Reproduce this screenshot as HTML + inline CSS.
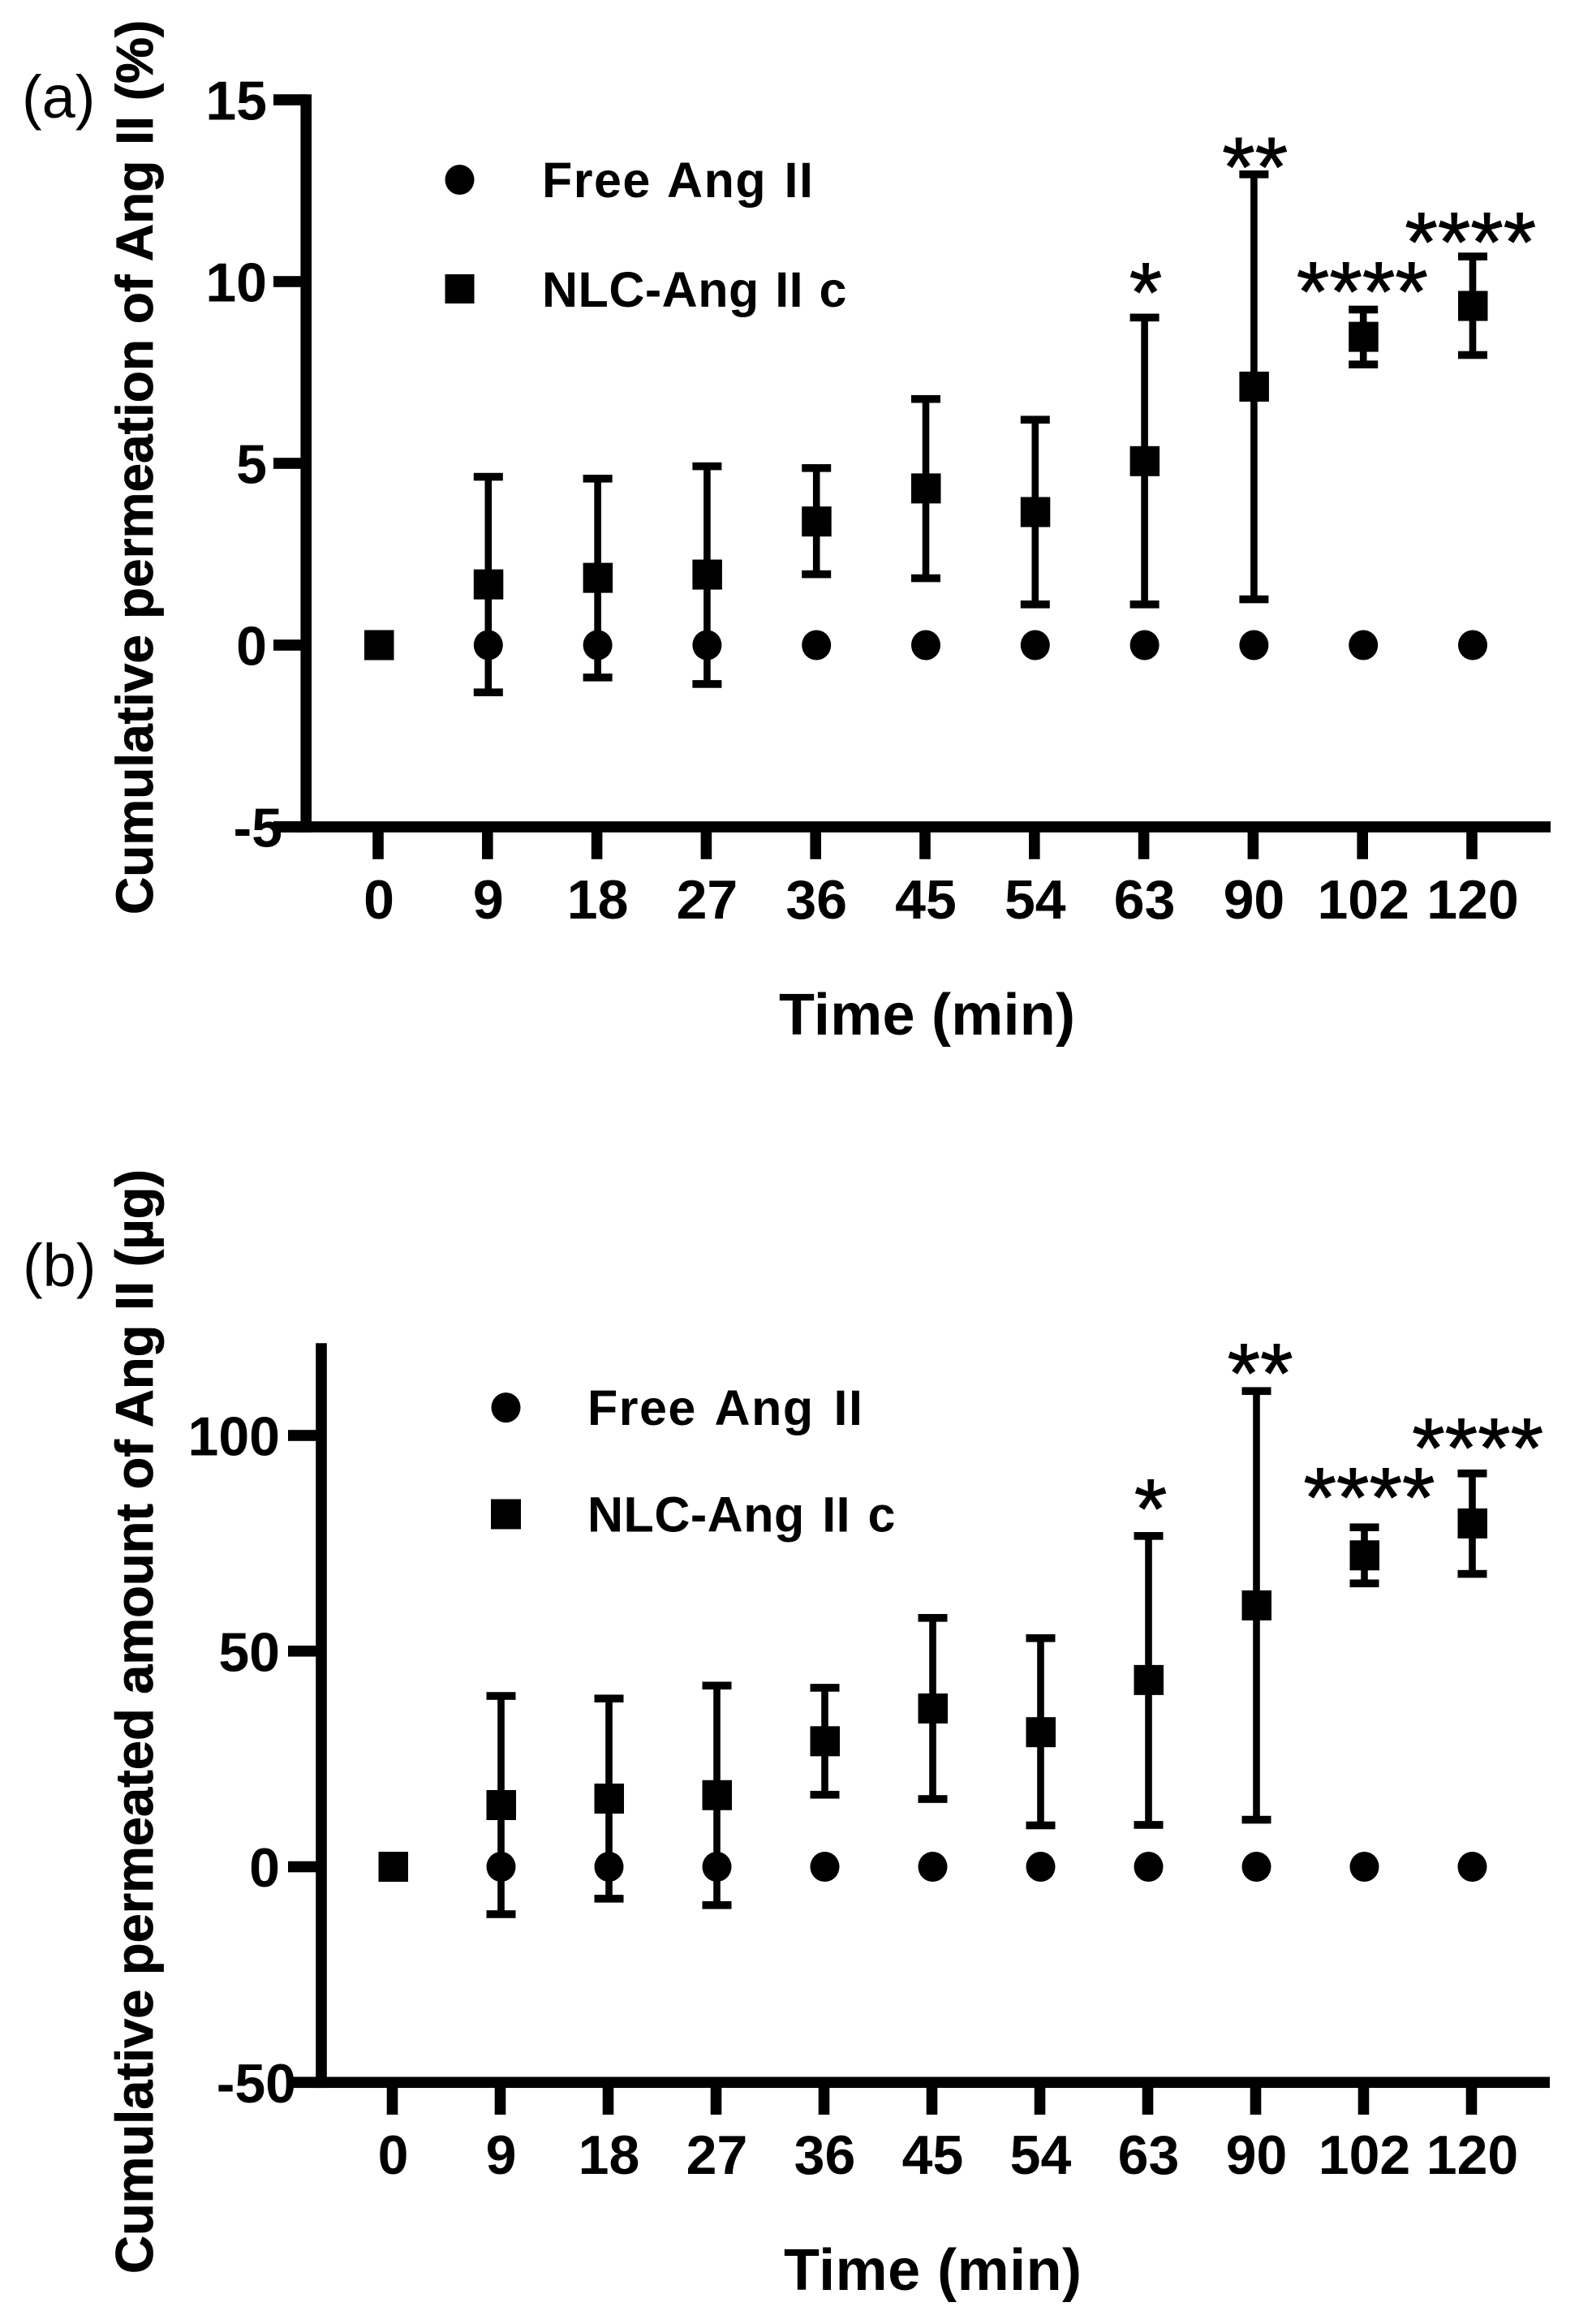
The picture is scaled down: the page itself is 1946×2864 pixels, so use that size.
<!DOCTYPE html>
<html lang="en">
<head>
<meta charset="utf-8">
<title>Cumulative permeation of Ang II</title>
<style>
html,body{margin:0;padding:0;background:#fff;}
svg{display:block;}
text{font-family:"Liberation Sans",Arial,sans-serif;fill:#000;}
.b{font-weight:bold;}
.t{stroke:#000;stroke-width:0.8px;}
</style>
</head>
<body>
<svg id="figure" xmlns="http://www.w3.org/2000/svg" width="1946" height="2864" viewBox="0 0 1946 2864">
  <rect x="0" y="0" width="1946" height="2864" fill="#fff"/>

  <g id="panel-a">
    <text x="27" y="145" font-size="74">(a)</text>
    <text class="b t" transform="translate(188,1127) rotate(-90)" font-size="64" word-spacing="1.2">Cumulative permeation of Ang II (%)</text>
    <text class="b" x="960" y="1275" font-size="72" textLength="365" lengthAdjust="spacing">Time (min)</text>
    <g>
      <ellipse cx="566.5" cy="221.5" rx="18" ry="18.5" fill="#000"/>
      <text class="b" x="668" y="243" font-size="61" letter-spacing="1.5" word-spacing="3">Free Ang II</text>
      <rect x="548.5" y="338" width="36" height="36" fill="#000"/>
      <text class="b" x="668" y="378" font-size="61" letter-spacing="0.5" word-spacing="2">NLC-Ang II c</text>
    </g>
  </g>

  <g id="panel-b">
    <text x="28" y="1585" font-size="74">(b)</text>
    <text class="b t" transform="translate(188,2802) rotate(-90)" font-size="65" word-spacing="-0.5">Cumulative permeated amount of Ang II (µg)</text>
    <text class="b" x="966" y="2822" font-size="72" textLength="367" lengthAdjust="spacing">Time (min)</text>
    <g>
      <ellipse cx="623.5" cy="1734.6" rx="18" ry="18.5" fill="#000"/>
      <text class="b" x="724" y="1756" font-size="61" letter-spacing="1.5" word-spacing="5.5">Free Ang II</text>
      <rect x="605" y="1847.5" width="37" height="37" fill="#000"/>
      <text class="b" x="724" y="1887.5" font-size="61" letter-spacing="0.5" word-spacing="4">NLC-Ang II c</text>
    </g>
  </g>
</svg>

<script>
// Shared category axis
const categories = ['0', '9', '18', '27', '36', '45', '54', '63', '90', '102', '120'];

// Panel (a): cumulative permeation (%)
const aTicks = [-5, 0, 5, 10, 15];
const aFree = [0, 0, 0, 0, 0, 0, 0, 0, 0, 0, 0];
const aNlc = [0, 1.67, 1.85, 1.94, 3.40, 4.31, 3.66, 5.06, 7.11, 8.48, 9.33];
const aNlcUpper = [0, 4.63, 4.58, 4.92, 4.87, 6.77, 6.20, 9.01, 12.95, 9.23, 10.69];
const aNlcLower = [0, -1.30, -0.89, -1.07, 1.95, 1.84, 1.12, 1.12, 1.26, 7.72, 7.98];
const aSigLabels = ['*', '**', '****', '****'];
const aSigCategory = [7.01, 8.01, 8.99, 9.98];
const aSigLevel = [8.91, 12.35, 8.93, 10.29];

// Panel (b): cumulative permeated amount (µg)
const bTicks = [-50, 0, 50, 100];
const bFree = [0, 0, 0, 0, 0, 0, 0, 0, 0, 0, 0];
const bNlc = [0, 14.3, 15.8, 16.6, 29.1, 36.7, 31.2, 43.3, 60.6, 72.2, 79.6];
const bNlcUpper = [0, 39.6, 39.0, 42.0, 41.5, 57.7, 53.0, 76.7, 110.3, 78.7, 91.2];
const bNlcLower = [0, -11.0, -7.4, -8.9, 16.7, 15.7, 9.6, 9.7, 10.9, 65.7, 67.9];
const bSigLabels = ['*', '**', '****', '****'];
const bSigCategory = [7.02, 8.035, 9.045, 10.05];
const bSigLevel = [76.3, 107.7, 78.9, 90.4];

const NS = 'http://www.w3.org/2000/svg';

function make(parent, tag, attrs, text) {
  const el = document.createElementNS(NS, tag);
  Object.keys(attrs).forEach(function (k) { el.setAttribute(k, attrs[k]); });
  if (text !== undefined) el.textContent = text;
  parent.appendChild(el);
  return el;
}

function drawPanel(cfg) {
  const root = document.getElementById(cfg.id);
  const x = function (i) { return cfg.x0 + cfg.dx * i; };
  const y = function (v) { return cfg.y0 - cfg.perUnit * v; };
  const ax = cfg.axisX;
  const axisBottom = y(cfg.ticks[0]);
  const T = 13.6;

  // Y axis spine
  const ySpine = make(root, 'rect', {x: ax - T / 2, y: y(cfg.yMax), width: T, height: axisBottom + T / 2 - y(cfg.yMax), fill: '#000'});
  
  

  // X axis spine
  const xSpine = make(root, 'rect', {x: cfg.tickLeft, y: axisBottom - T / 2, width: cfg.xEnd - cfg.tickLeft, height: T, fill: '#000'});
  
  

  // Y ticks and labels
  cfg.ticks.forEach(function (v, n) {
    const tick = make(root, 'rect', {x: cfg.tickLeft, y: y(v) - T / 2, width: ax - cfg.tickLeft, height: T, fill: '#000'});
    
    
    const right = n === 0 ? cfg.firstLabelRight : cfg.labelRight;
    const label = make(root, 'text', {x: right, y: y(v) + 24.5, 'font-size': 68, 'font-weight': 'bold', 'text-anchor': 'end'}, String(v));
    
    
  });

  // X ticks and labels
  categories.forEach(function (c, i) {
    const tick = make(root, 'rect', {x: x(i) - 1 - T / 2, y: axisBottom + T / 2 - 1, width: T, height: cfg.xTickLen, fill: '#000'});
    
    
    const label = make(root, 'text', {x: x(i), y: cfg.xLabelY, 'font-size': 68, 'font-weight': 'bold', 'text-anchor': 'middle'}, c);
    
    
  });

  // Free Ang II points
  cfg.free.forEach(function (v, i) {
    const dot = make(root, 'ellipse', {cx: x(i), cy: y(v), rx: 18, ry: 18.5, fill: '#000'});
    
    
  });

  // NLC-Ang II c error bars
  cfg.nlc.forEach(function (v, i) {
    if (cfg.upper[i] === cfg.lower[i]) return;
    const yu = y(cfg.upper[i]);
    const yl = y(cfg.lower[i]);
    const stem = make(root, 'rect', {x: x(i) - 4.3, y: yu, width: 8.6, height: yl - yu, fill: '#000'});
    
    
    const capTop = make(root, 'rect', {x: x(i) - 18, y: yu - 4.8, width: 36, height: 9.6, fill: '#000'});
    
    
    const capBottom = make(root, 'rect', {x: x(i) - 18, y: yl - 4.8, width: 36, height: 9.6, fill: '#000'});
    
    
  });

  // NLC-Ang II c points
  cfg.nlc.forEach(function (v, i) {
    const sq = make(root, 'rect', {x: x(i) - 18, y: y(v) - 18.5, width: 36.5, height: 37, fill: '#000'});
    
    
  });

  // Significance stars
  cfg.sigLabels.forEach(function (s, n) {
    const star = make(root, 'text', {x: x(cfg.sigCategory[n]), y: y(cfg.sigLevel[n]), 'font-size': 104, 'text-anchor': 'middle', 'stroke': '#000', 'stroke-width': 1}, s);
    
    
  });
}

drawPanel({
  id: 'panel-a', x0: 467, dx: 134.8, y0: 795, perUnit: 44.8, axisX: 377.2, tickLeft: 337, xEnd: 1911,
  yMax: 15.15, xTickLen: 34, xLabelY: 1132, labelRight: 329, firstLabelRight: 348,
  ticks: aTicks, free: aFree, nlc: aNlc, upper: aNlcUpper, lower: aNlcLower,
  sigLabels: aSigLabels, sigCategory: aSigCategory, sigLevel: aSigLevel
});

drawPanel({
  id: 'panel-b', x0: 484.5, dx: 133, y0: 2300.5, perUnit: 5.315, axisX: 396, tickLeft: 355, xEnd: 1910,
  yMax: 121.4, xTickLen: 34, xLabelY: 2679, labelRight: 345, firstLabelRight: 365,
  ticks: bTicks, free: bFree, nlc: bNlc, upper: bNlcUpper, lower: bNlcLower,
  sigLabels: bSigLabels, sigCategory: bSigCategory, sigLevel: bSigLevel
});
</script>
</body>
</html>
